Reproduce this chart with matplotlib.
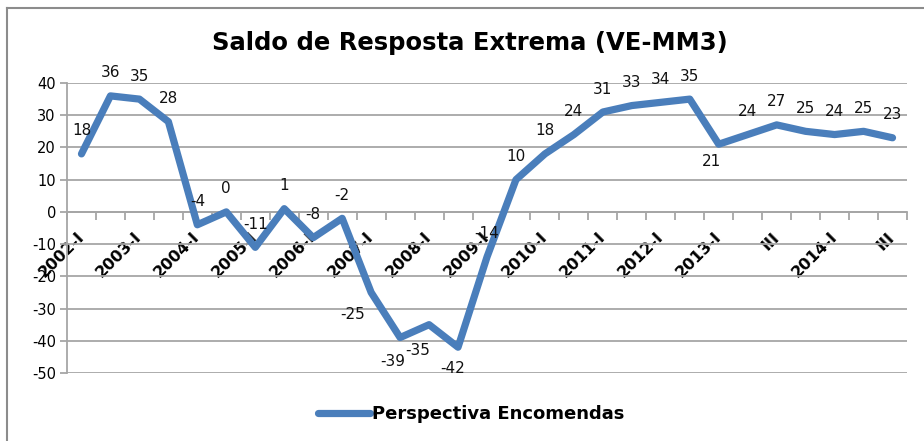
import matplotlib
matplotlib.use("Agg")
import matplotlib.pyplot as plt
from matplotlib.lines import Line2D

# ---- data ----
categories = ["2002-I", "II", "2003-I", "II", "2004-I", "II", "2005-I", "II",
              "2006-I", "II", "2007-I", "II", "2008-I", "II", "2009-I", "II",
              "2010-I", "II", "2011-I", "II", "2012-I", "II",
              "2013-I", "II", "III", "IV", "2014-I", "II", "III"]
values = [18, 36, 35, 28, -4, 0, -11, 1, -8, -2, -25, -39, -35, -42, -14,
          10, 18, 24, 31, 33, 34, 35, 21, 24, 27, 25, 24, 25, 23]
series_name = "Perspectiva Encomendas"
title = "Saldo de Resposta Extrema (VE-MM3)"
y_ticks = [-50, -40, -30, -20, -10, 0, 10, 20, 30, 40]

# label offsets in pixels (dx, dy)
label_offsets = {10: (-19, -22), 11: (-7, -24), 12: (-11, -26),
                 13: (-5, -21), 22: (-7, -17)}
default_offset = (0, 23)

W, H = 924, 441
fig = plt.figure(figsize=(W / 100, H / 100), dpi=100)
fig.patch.set_facecolor("white")

L, R, T, B = 67, 907, 83, 373
ax = fig.add_axes([L / W, 1 - B / H, (R - L) / W, (B - T) / H])

line_color = "#4A7EBB"
grid_color = "#A6A6A6"
n = len(values)
x = list(range(n))
ax.plot(x, values, color=line_color, lw=5.2, solid_joinstyle="round",
        solid_capstyle="round", label=series_name, zorder=3)

ax.set_xlim(-0.5, n - 0.5)
ax.set_ylim(-50, 40)
ax.set_yticks(y_ticks)
ax.set_yticklabels([str(v) for v in y_ticks], fontsize=10.5, family="DejaVu Sans")
ax.yaxis.grid(True, color=grid_color, lw=1.3, zorder=0)
ax.set_axisbelow(True)

for s in ["top", "right"]:
    ax.spines[s].set_visible(False)
ax.spines["left"].set_color(grid_color)
ax.spines["left"].set_linewidth(1.3)
ax.spines["bottom"].set_position(("data", 0))
ax.spines["bottom"].set_color(grid_color)
ax.spines["bottom"].set_linewidth(1.3)

ax.tick_params(axis="y", length=5, width=1.3, color=grid_color, pad=3)

# x ticks: boundaries as minor tick marks, labels every other category
ax.set_xticks([i - 0.5 for i in range(n + 1)], minor=True)
ax.set_xticks(x[::2])
ax.set_xticklabels(categories[::2], rotation=45, ha="right", va="center",
                   rotation_mode="anchor", fontsize=11.5, fontweight="bold",
                   family="DejaVu Sans")
ax.tick_params(axis="x", which="major", length=0, pad=16.5)
ax.tick_params(axis="x", which="minor", length=6, width=1.3, color=grid_color,
               direction="out")

for i, v in enumerate(values):
    dx, dy = label_offsets.get(i, default_offset)
    ax.annotate(str(v), (i, v), xytext=(dx, dy), textcoords="offset pixels",
                ha="center", va="center", fontsize=11, family="DejaVu Sans",
                color="#111111", zorder=4)

fig.text(470 / W, 1 - 43 / H, title, ha="center", va="center",
         fontsize=17.5, fontweight="bold", family="DejaVu Sans")

fig.legend(handles=[Line2D([0], [0], color=line_color, lw=5.2,
                           solid_capstyle="round")],
           labels=[series_name], loc="center",
           bbox_to_anchor=(471 / W, 1 - 414 / H), frameon=False,
           handlelength=2.9, handletextpad=0.1,
           prop={"size": 13, "weight": "bold", "family": "DejaVu Sans"})

# outer chart border (top and left visible)
border = "#8C8C8C"
fig.add_artist(Line2D([7 / W, 1], [1 - 8 / H, 1 - 8 / H], color=border,
                      lw=1.5, transform=fig.transFigure))
fig.add_artist(Line2D([7 / W, 7 / W], [0, 1 - 8 / H], color=border,
                      lw=1.5, transform=fig.transFigure))

fig.savefig("out.png", dpi=100)
